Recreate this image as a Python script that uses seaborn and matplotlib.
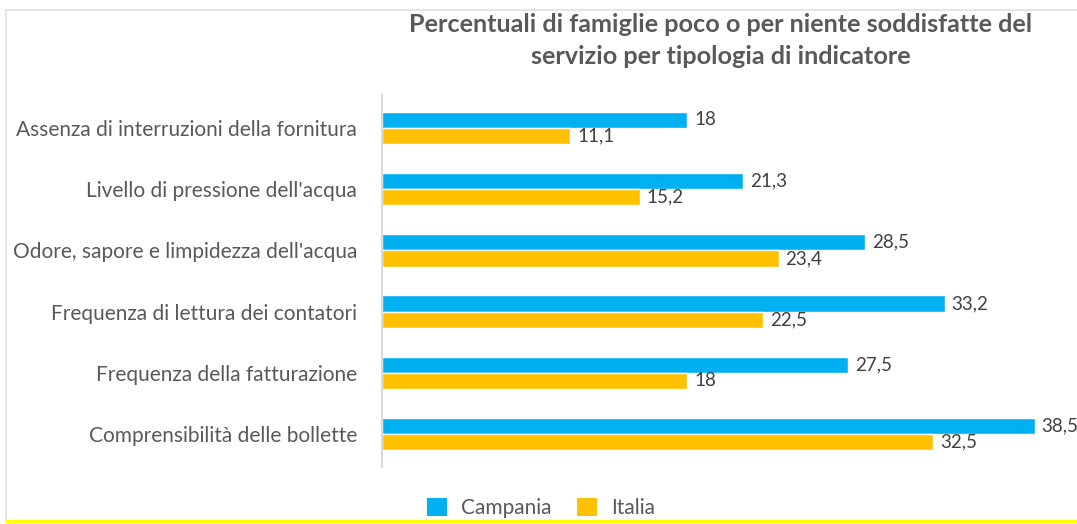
import matplotlib
matplotlib.use("Agg")
import matplotlib.pyplot as plt
import seaborn as sns
import pandas as pd
from matplotlib.patches import Patch
from matplotlib.lines import Line2D

categories = [
    "Assenza di interruzioni della fornitura",
    "Livello di pressione dell'acqua",
    "Odore, sapore e limpidezza dell'acqua",
    "Frequenza di lettura dei contatori",
    "Frequenza della fatturazione",
    "Comprensibilità delle bollette",
]
campania = [18, 21.3, 28.5, 33.2, 27.5, 38.5]
italia = [11.1, 15.2, 23.4, 22.5, 18, 32.5]
series_names = ["Campania", "Italia"]
colors = ["#00B0F0", "#FFC000"]
title = "Percentuali di famiglie poco o per niente soddisfatte del\nservizio per tipologia di indicatore"

sns.set_theme(style="white")
plt.rcParams['font.family'] = ['Lato', 'DejaVu Sans']
text_color = "#595959"

df = pd.DataFrame({
    "Indicatore": categories * 2,
    "Valore": campania + italia,
    "Serie": [series_names[0]] * len(categories) + [series_names[1]] * len(categories),
})

fig = plt.figure(figsize=(10.77, 5.24), dpi=100)
ax = fig.add_axes([382 / 1077, 57 / 524, 678 / 1077, 372 / 524])

sns.barplot(data=df, y="Indicatore", x="Valore", hue="Serie", orient="h",
            palette=colors, width=0.53, ax=ax, legend=False, saturation=1)

ax.set_xlim(0, 40)
ax.set_ylim(5.54, -0.54)
ax.set_xlabel("")
ax.set_ylabel("")
ax.set_xticks([])
for s in ["top", "right", "bottom"]:
    ax.spines[s].set_visible(False)
ax.spines["left"].set_color("#D9D9D9")
ax.spines["left"].set_linewidth(1.5)
ax.tick_params(axis="y", length=0, pad=18, labelsize=15, labelcolor=text_color)

def fmt(v):
    if float(v).is_integer():
        return str(int(v))
    return str(v).replace(".", ",")

for cont in ax.containers:
    labels = [fmt(b.get_width()) for b in cont]
    ax.bar_label(cont, labels=labels, padding=5, fontsize=13.5, color="#404040")

fig.text(721 / 1077, 1 - 40.5 / 524, title, ha="center", va="center",
         fontsize=18.2, fontweight="bold", color=text_color, linespacing=1.47)

handles = [Patch(facecolor=c, edgecolor="none") for c in colors]
fig.legend(handles, series_names, loc="center", bbox_to_anchor=(541 / 1077, 1 - 508 / 524),
           ncol=2, frameon=False, fontsize=15, labelcolor=text_color,
           handlelength=0.95, handleheight=0.95, columnspacing=1.2, handletextpad=0.7)

# chart border
fig.add_artist(Line2D([6 / 1077, 6 / 1077], [1 - 520 / 524, 1 - 10 / 524],
                      transform=fig.transFigure, color="#E0E0E0", lw=1.2))
fig.add_artist(Line2D([6 / 1077, 1.0], [1 - 10 / 524, 1 - 10 / 524],
                      transform=fig.transFigure, color="#E0E0E0", lw=1.2))
fig.add_artist(Line2D([6 / 1077, 1.0], [1 - 520.5 / 524, 1 - 520.5 / 524],
                      transform=fig.transFigure, color="#FFFF00", lw=2.5))

fig.savefig("out.png", dpi=100)
